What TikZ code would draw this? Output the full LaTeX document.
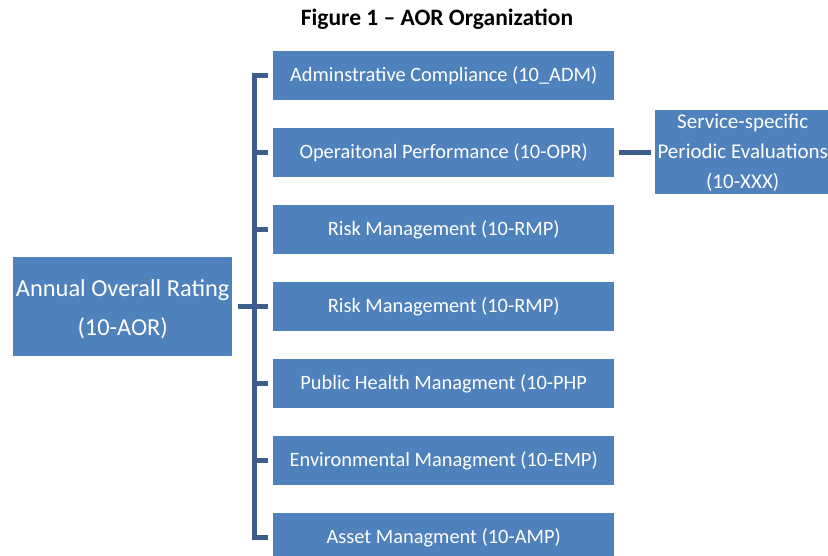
\documentclass[tikz,border=0pt]{standalone}
\usepackage{fontspec}
\setmainfont{Carlito}
\definecolor{boxblue}{HTML}{4F81BD}
\definecolor{linkblue}{HTML}{3B5E8C}
\begin{document}
\begin{tikzpicture}[x=1pt,y=-1pt,
  unit/.style={fill=boxblue, draw=none, text=white, inner sep=0pt,
    minimum width=341pt, minimum height=49pt, anchor=north west,
    font=\fontsize{20.4}{24}\selectfont},
  link/.style={draw=linkblue, line width=5pt, line join=miter}]
\useasboundingbox (0,0) rectangle (828,556);

\node[font=\bfseries\fontsize{23.5}{28}\selectfont] (title) at (437,19) {Figure 1 – AOR Organization};

% overall rating box, its two lines set a little below the box centre
\node[fill=boxblue, inner sep=0pt, minimum width=219pt, minimum height=99pt,
  anchor=north west] (aor) at (13,257) {};
\node[text=white, inner sep=0pt, align=center, font=\fontsize{24.4}{39}\selectfont]
  (aortext) at ([yshift=-3pt]aor.center) {Annual Overall Rating\\(10-AOR)};

\node[unit] (b1) at (273,51)  {Adminstrative Compliance (10\_ADM)};
\node[unit] (b2) at (273,128) {Operaitonal Performance (10-OPR)};
\node[unit] (b3) at (273,205) {Risk Management (10-RMP)};
\node[unit] (b4) at (273,282) {Risk Management (10-RMP)};
\node[unit] (b5) at (273,359) {Public Health Managment (10-PHP};
\node[unit] (b6) at (273,436) {Environmental Managment (10-EMP)};
\node[unit] (b7) at (273,513) {Asset Managment (10-AMP)};

\node[fill=boxblue, text=white, inner sep=0pt, minimum width=175pt, minimum height=84pt,
  anchor=north west, align=center, font=\fontsize{21}{30}\selectfont] (svc) at (655,110)
  {Service-specific\\Periodic Evaluations\\(10-XXX)};

% bracket joining the unit boxes
\draw[link] ([xshift=-5pt]b1.west) -- ++(-14,0) |- ([xshift=-5pt]b7.west);
\foreach \b in {b2,b3,b4,b5,b6}
  \draw[link] ([xshift=-5pt]\b.west) -- ++(-14,0);

% overall rating to the bracket
\draw[link] ([xshift=6pt]aor.east) -- ([xshift=-5pt]b4.west);

% operational performance to the service evaluations
\draw[link] ([xshift=5pt]b2.east) -- ([xshift=-4pt]b2.east -| svc.west);
\end{tikzpicture}
\end{document}
